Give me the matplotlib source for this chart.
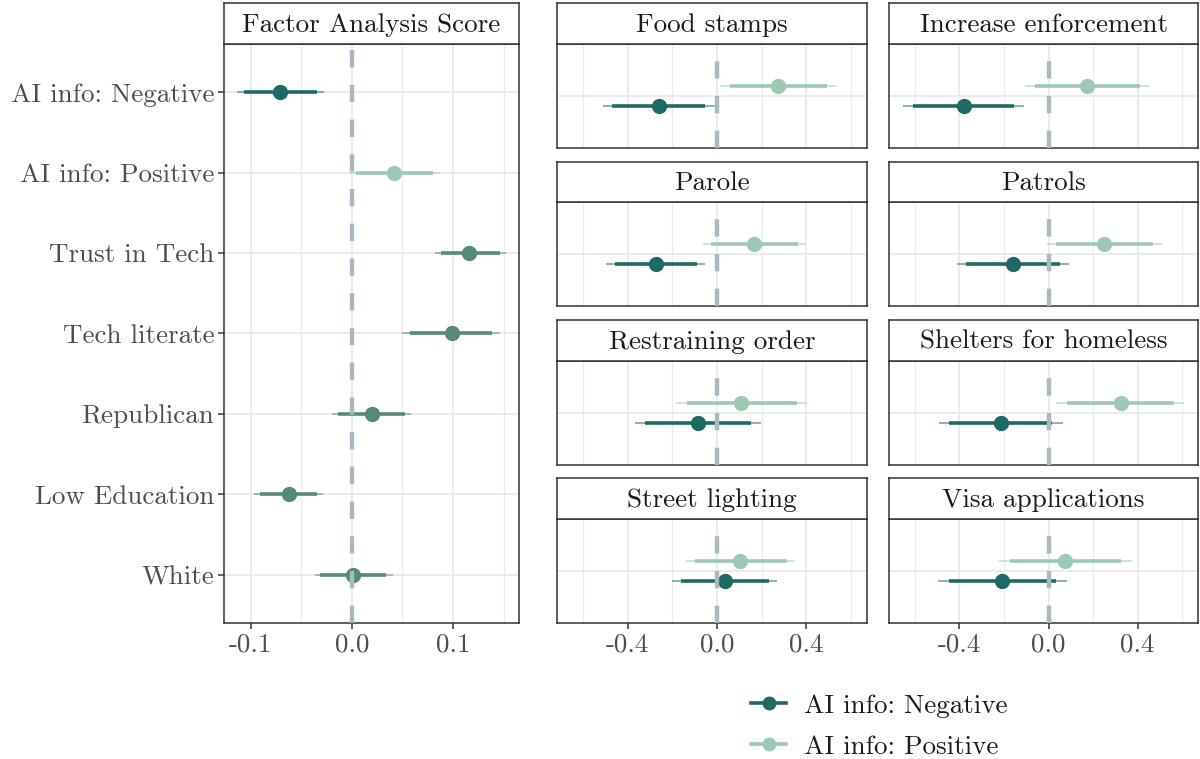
import matplotlib
matplotlib.use("Agg")
import matplotlib.pyplot as plt
from matplotlib.lines import Line2D
from matplotlib.ticker import FixedLocator, FixedFormatter

plt.rcParams['font.family'] = ['cmr10', 'DejaVu Serif']
plt.rcParams['axes.unicode_minus'] = False
plt.rcParams['lines.scale_dashes'] = False

# left panel: factor analysis score
covariates = ["AI info: Negative", "AI info: Positive", "Trust in Tech", "Tech literate",
              "Republican", "Low Education", "White"]
fa_est = [-0.0706, 0.0417, 0.116, 0.099, 0.0197, -0.062, 0.0017]
fa_lo90 = [-0.106, 0.004, 0.088, 0.058, -0.014, -0.091, -0.031]
fa_hi90 = [-0.034, 0.080, 0.146, 0.139, 0.053, -0.034, 0.034]
fa_lo95 = [-0.113, -0.003, 0.082, 0.050, -0.020, -0.097, -0.036]
fa_hi95 = [-0.027, 0.087, 0.152, 0.146, 0.059, -0.028, 0.041]
fa_group = ["neg", "pos", "cov", "cov", "cov", "cov", "cov"]

# right panels: policy items
policies = ["Food stamps", "Increase enforcement", "Parole", "Patrols",
            "Restraining order", "Shelters for homeless", "Street lighting", "Visa applications"]
neg_est = [-0.260, -0.381, -0.273, -0.160, -0.086, -0.214, 0.035, -0.207]
neg_lo90 = [-0.471, -0.610, -0.458, -0.370, -0.322, -0.445, -0.162, -0.448]
neg_hi90 = [-0.052, -0.154, -0.089, 0.050, 0.153, 0.017, 0.231, 0.035]
neg_lo95 = [-0.512, -0.653, -0.497, -0.411, -0.368, -0.491, -0.201, -0.495]
neg_hi95 = [-0.006, -0.112, -0.052, 0.091, 0.197, 0.063, 0.270, 0.082]
pos_est = [0.272, 0.175, 0.166, 0.251, 0.108, 0.324, 0.104, 0.074]
pos_lo90 = [0.056, -0.061, -0.028, 0.032, -0.136, 0.082, -0.099, -0.173]
pos_hi90 = [0.491, 0.409, 0.361, 0.467, 0.359, 0.562, 0.313, 0.326]
pos_lo95 = [0.013, -0.104, -0.065, -0.006, -0.182, 0.035, -0.140, -0.221]
pos_hi95 = [0.534, 0.456, 0.398, 0.508, 0.404, 0.608, 0.350, 0.374]

legend_labels = ["AI info: Negative", "AI info: Positive"]

colors = {"neg": "#1d6a65", "pos": "#9dc8b3", "cov": "#558a77"}
zero_col = "#aab9bf"
grid_col = "#ebebeb"
border_col = "#333333"
axis_txt = "#4d4d4d"
fs = 19.5

W, H = 1200, 759
fig = plt.figure(figsize=(12, 7.59), dpi=100)


def px_axes(x0, y0, x1, y1):
    # pixel box (top-left origin) -> figure axes
    return fig.add_axes([x0 / W, 1 - y1 / H, (x1 - x0) / W, (y1 - y0) / H])


def strip(x0, y0, x1, y1, label):
    s = px_axes(x0, y0, x1, y1)
    s.set_xticks([])
    s.set_yticks([])
    for sp in s.spines.values():
        sp.set_color(border_col)
        sp.set_linewidth(1.1)
    s.text(0.5, 0.47, label, ha='center', va='center', fontsize=fs, color="#1a1a1a",
           transform=s.transAxes)


def style_panel(ax, major, minor):
    ax.set_facecolor('white')
    for sp in ax.spines.values():
        sp.set_color(border_col)
        sp.set_linewidth(1.1)
    for v in major:
        ax.axvline(v, color=grid_col, lw=1.4, zorder=0)
    for v in minor:
        ax.axvline(v, color=grid_col, lw=0.8, zorder=0)


def interval(ax, y, est, lo90, hi90, lo95, hi95, c):
    ax.plot([lo95, hi95], [y, y], color=c, lw=1.3, alpha=0.55, solid_capstyle='butt', zorder=2)
    ax.plot([lo90, hi90], [y, y], color=c, lw=2.6, solid_capstyle='butt', zorder=3)
    ax.plot([est], [y], 'o', color=c, ms=11, mec='none', zorder=4)


def zero_line(ax):
    ax.axvline(0, color=zero_col, lw=3.2, linestyle=(0, (12.5, 12.5)), zorder=5)


def expand(vals_lo, vals_hi):
    lo, hi = min(vals_lo), max(vals_hi)
    r = hi - lo
    return lo - 0.05 * r, hi + 0.05 * r


# ---- left panel
ax = px_axes(224, 44, 519, 623)
style_panel(ax, [-0.1, 0.0, 0.1], [-0.05, 0.05, 0.15])
ypos = list(range(1, len(covariates) + 1))
for y in ypos:
    ax.axhline(y, color=grid_col, lw=1.4, zorder=0)
for i, y in enumerate(ypos):
    interval(ax, y, fa_est[i], fa_lo90[i], fa_hi90[i], fa_lo95[i], fa_hi95[i], colors[fa_group[i]])
zero_line(ax)
ax.set_xlim(*expand(fa_lo95, fa_hi95))
ax.set_ylim(len(covariates) + 0.6, 0.4)
ax.xaxis.set_major_locator(FixedLocator([-0.1, 0.0, 0.1]))
ax.xaxis.set_major_formatter(FixedFormatter(["-0.1", "0.0", "0.1"]))
ax.set_yticks(ypos)
ax.set_yticklabels(covariates)
ax.tick_params(axis='both', colors=border_col, length=4, width=1.1, labelsize=fs,
               labelcolor=axis_txt, pad=3)
strip(224, 3, 519, 44, "Factor Analysis Score")

# ---- right facets
col_x = [(557, 867), (889, 1198)]
row_y = [(3, 44, 148), (162, 202, 306), (320, 361, 465), (478, 519, 623)]
xl = expand(neg_lo95 + pos_lo95, neg_hi95 + pos_hi95)
dodge = 0.115
for k, name in enumerate(policies):
    r, c = divmod(k, 2)
    x0, x1 = col_x[c]
    s0, p0, p1 = row_y[r]
    a = px_axes(x0, p0, x1, p1)
    style_panel(a, [-0.4, 0.0, 0.4], [-0.6, -0.2, 0.2, 0.6])
    a.axhline(1, color=grid_col, lw=1.4, zorder=0)
    interval(a, 1 + dodge, pos_est[k], pos_lo90[k], pos_hi90[k], pos_lo95[k], pos_hi95[k], colors["pos"])
    interval(a, 1 - dodge, neg_est[k], neg_lo90[k], neg_hi90[k], neg_lo95[k], neg_hi95[k], colors["neg"])
    zero_line(a)
    a.set_xlim(*xl)
    a.set_ylim(0.4, 1.6)
    a.set_yticks([])
    a.xaxis.set_major_locator(FixedLocator([-0.4, 0.0, 0.4]))
    if r == 3:
        a.xaxis.set_major_formatter(FixedFormatter(["-0.4", "0.0", "0.4"]))
        a.tick_params(axis='x', colors=border_col, length=4, width=1.1, labelsize=fs,
                      labelcolor=axis_txt, pad=3)
    else:
        a.tick_params(axis='x', length=0, labelbottom=False)
    strip(x0, s0, x1, p0, name)

# ---- legend
handles = [Line2D([0], [0], color=colors["neg"], lw=2.6, marker='o', ms=10, mec='none'),
           Line2D([0], [0], color=colors["pos"], lw=2.6, marker='o', ms=10, mec='none')]
fig.legend(handles, legend_labels, loc='upper left', bbox_to_anchor=(751 / W, 1 - 694 / H),
           frameon=False, fontsize=fs, handlelength=1.3, handletextpad=0.65,
           labelspacing=0.62, borderpad=0, borderaxespad=0, labelcolor="#1a1a1a")

fig.savefig("out.png", dpi=100)
